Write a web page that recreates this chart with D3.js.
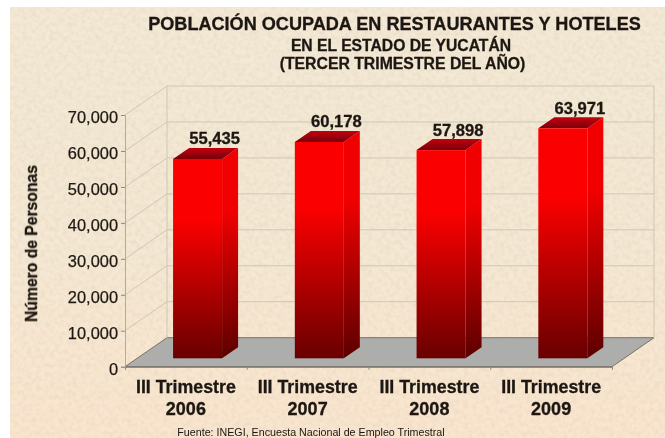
<!DOCTYPE html>
<html>
<head>
<meta charset="utf-8">
<script src="https://cdn.jsdelivr.net/npm/d3@7"></script>
<style>
  html, body { margin: 0; padding: 0; background: #fff; }
  text { font-family: "Liberation Sans", Arial, sans-serif; fill: #1c1712; }
  .bold { font-weight: bold; stroke: #1c1712; stroke-width: 0.3px; }
</style>
</head>
<body>
<div id="chart"></div>
<script>
// Data
var quarters = ["III Trimestre", "III Trimestre", "III Trimestre", "III Trimestre"];
var years = ["2006", "2007", "2008", "2009"];
var personas = [55435, 60178, 57898, 63971];
var yTicks = [0, 10000, 20000, 30000, 40000, 50000, 60000, 70000];

var svgWidth = 665;
var svgHeight = 438;

var svg = d3.select("#chart").append("svg")
  .attr("width", svgWidth)
  .attr("height", svgHeight)
  .style("display", "block");

var defs = svg.append("defs");

// paper texture for the background
var paper = defs.append("filter").attr("id", "paper")
  .attr("x", 0).attr("y", 0).attr("width", "100%").attr("height", "100%");
paper.append("feTurbulence")
  .attr("type", "fractalNoise").attr("baseFrequency", 0.22)
  .attr("numOctaves", 4).attr("seed", 7).attr("result", "noise");
paper.append("feColorMatrix").attr("in", "noise").attr("type", "matrix")
  .attr("values", "0 0 0 0 0.6  0 0 0 0 0.5  0 0 0 0 0.34  0.5 0 0 0 -0.18")
  .attr("result", "speck");
paper.append("feComposite").attr("in", "speck").attr("in2", "SourceGraphic").attr("operator", "over");

// the source is a soft screenshot
defs.append("filter").attr("id", "soft")
  .append("feGaussianBlur").attr("stdDeviation", 0.5);

var paperGrad = defs.append("linearGradient").attr("id", "paperGrad")
  .attr("x1", 0).attr("y1", 0).attr("x2", 0).attr("y2", 1);
paperGrad.append("stop").attr("offset", "0%").attr("stop-color", "#f3e9d5");
paperGrad.append("stop").attr("offset", "55%").attr("stop-color", "#f5e8d4");
paperGrad.append("stop").attr("offset", "100%").attr("stop-color", "#fae5ce");

function barGradient(id, top, bottom) {
  var g = defs.append("linearGradient").attr("id", id)
    .attr("x1", 0).attr("y1", 0).attr("x2", 0).attr("y2", 1);
  g.append("stop").attr("offset", "0%").attr("stop-color", top);
  g.append("stop").attr("offset", "30%").attr("stop-color", top);
  g.append("stop").attr("offset", "100%").attr("stop-color", bottom);
}
barGradient("barFront", "#fb0000", "#680000");
barGradient("barSide", "#f00000", "#5c0000");

// top face goes dark toward the front edge
var topGrad = defs.append("linearGradient").attr("id", "barTop")
  .attr("x1", 0).attr("y1", 0).attr("x2", 0).attr("y2", 1);
topGrad.append("stop").attr("offset", "0%").attr("stop-color", "#c40008");
topGrad.append("stop").attr("offset", "100%").attr("stop-color", "#780006");

svg.append("rect")
  .attr("x", 10).attr("y", 7)
  .attr("width", 655).attr("height", 431)
  .attr("fill", "url(#paperGrad)")
  .attr("filter", "url(#paper)");

var chart = svg.append("g").attr("filter", "url(#soft)");

// scales: front edge of the floor
var xScale = d3.scaleBand().domain(d3.range(years.length)).range([125, 612]).paddingInner(0);
var yScale = d3.scaleLinear().domain([0, 70000]).range([366.7, 115]);

// depth of the 3d box, and where the bars sit in it
var depthX = 42;
var depthY = -29;
var barOffsetX = 12;
var barOffsetY = -8.4;
var barSideX = 16;
var barSideY = -11;
var barWidth = 49;

// floor
var floorPath = d3.path();
floorPath.moveTo(xScale.range()[0], yScale(0));
floorPath.lineTo(xScale.range()[1], yScale(0));
floorPath.lineTo(xScale.range()[1] + depthX, yScale(0) + depthY);
floorPath.lineTo(xScale.range()[0] + depthX, yScale(0) + depthY);
floorPath.closePath();
chart.append("path").attr("d", floorPath.toString())
  .attr("fill", "#adadac").attr("stroke", "#77726a").attr("stroke-width", 1);

// back wall gridlines and the diagonals running to the axis
var grid = chart.append("g").attr("fill", "none").attr("stroke", "#cdc7b6").attr("stroke-width", 1);
yTicks.forEach(function(t) {
  if (t > 0) {
    grid.append("line")
      .attr("x1", xScale.range()[0] + depthX).attr("x2", xScale.range()[1] + depthX)
      .attr("y1", yScale(t) + depthY).attr("y2", yScale(t) + depthY);
    grid.append("line")
      .attr("x1", xScale.range()[0]).attr("x2", xScale.range()[0] + depthX)
      .attr("y1", yScale(t)).attr("y2", yScale(t) + depthY);
  }
});
grid.append("line")
  .attr("x1", xScale.range()[0] + depthX).attr("x2", xScale.range()[0] + depthX)
  .attr("y1", yScale(0) + depthY).attr("y2", yScale(70000) + depthY);
grid.append("line")
  .attr("x1", xScale.range()[1] + depthX).attr("x2", xScale.range()[1] + depthX)
  .attr("y1", yScale(0) + depthY).attr("y2", yScale(70000) + depthY);

// y axis
var yAxis = d3.axisLeft(yScale).tickValues(yTicks).tickSize(4).tickPadding(3).tickFormat(d3.format(","));
var yAxisG = chart.append("g")
  .attr("transform", "translate(" + xScale.range()[0] + ",0)")
  .call(yAxis);
yAxisG.select(".domain").attr("stroke", "#b0ab9d");
yAxisG.selectAll(".tick line").attr("stroke", "#8d897e");
yAxisG.selectAll("text")
  .attr("font-size", 16.4)
  .attr("dy", "0.46em")
  .attr("stroke", "#2a241c")
  .attr("stroke-width", 0.25)
  .style("font-family", '"Liberation Sans", Arial, sans-serif')
  .attr("fill", "#2a241c");

// x axis: line and ticks only, labels are two lines so they are added below
var xEdges = d3.scaleLinear().domain([0, years.length]).range(xScale.range());
var xAxis = d3.axisBottom(xEdges).ticks(years.length).tickSize(3).tickFormat("");
var xAxisG = chart.append("g")
  .attr("transform", "translate(0," + yScale(0) + ")")
  .call(xAxis);
xAxisG.select(".domain").attr("stroke", "#77726a");
xAxisG.selectAll(".tick line").attr("stroke", "#8d897e");

// bars
var bars = chart.selectAll("g.bar").data(personas).enter().append("g").attr("class", "bar");

function barLeft(i) {
  return xScale(i) + (xScale.bandwidth() - barWidth) / 2 + barOffsetX - 0.3;
}

// side face
bars.append("path")
  .attr("d", function(d, i) {
    var p = d3.path();
    var x = barLeft(i) + barWidth;
    p.moveTo(x, yScale(d) + barOffsetY);
    p.lineTo(x + barSideX, yScale(d) + barOffsetY + barSideY);
    p.lineTo(x + barSideX, yScale(0) + barOffsetY + barSideY);
    p.lineTo(x, yScale(0) + barOffsetY);
    p.closePath();
    return p.toString();
  })
  .attr("fill", "url(#barSide)");

// top face
bars.append("path")
  .attr("d", function(d, i) {
    var p = d3.path();
    var x = barLeft(i);
    var y = yScale(d) + barOffsetY;
    p.moveTo(x, y);
    p.lineTo(x + barWidth, y);
    p.lineTo(x + barWidth + barSideX, y + barSideY);
    p.lineTo(x + barSideX, y + barSideY);
    p.closePath();
    return p.toString();
  })
  .attr("fill", "url(#barTop)");

// front face
bars.append("rect")
  .attr("x", function(d, i) { return barLeft(i); })
  .attr("y", function(d) { return yScale(d) + barOffsetY; })
  .attr("width", barWidth)
  .attr("height", function(d) { return yScale(0) - yScale(d); })
  .attr("fill", "url(#barFront)");

// value labels
chart.selectAll("text.value").data(personas).enter().append("text")
  .attr("class", "value bold")
  .attr("x", function(d, i) { return barLeft(i) + 41.5; })
  .attr("y", function(d) { return yScale(d) + barOffsetY - 14.5; })
  .attr("text-anchor", "middle")
  .attr("font-size", 16.6)
  .text(function(d) { return d3.format(",")(d); });

// category labels
chart.selectAll("text.quarter").data(quarters).enter().append("text")
  .attr("class", "quarter bold")
  .attr("x", function(d, i) { return xScale(i) + xScale.bandwidth() / 2; })
  .attr("y", 392.7)
  .attr("text-anchor", "middle")
  .attr("font-size", 17.8)
  .text(function(d) { return d; });

chart.selectAll("text.year").data(years).enter().append("text")
  .attr("class", "year bold")
  .attr("x", function(d, i) { return xScale(i) + xScale.bandwidth() / 2; })
  .attr("y", 415)
  .attr("text-anchor", "middle")
  .attr("font-size", 18)
  .text(function(d) { return d; });

// y axis title
chart.append("text")
  .attr("class", "bold")
  .attr("transform", "translate(37,243.5) rotate(-90)")
  .attr("text-anchor", "middle")
  .attr("font-size", 15.7)
  .text("Número de Personas");

// titles
chart.append("text")
  .attr("class", "bold")
  .attr("x", 394.5).attr("y", 29.5)
  .attr("text-anchor", "middle")
  .attr("font-size", 18.1)
  .text("POBLACIÓN OCUPADA EN RESTAURANTES Y HOTELES");

chart.append("text")
  .attr("class", "bold")
  .attr("x", 401).attr("y", 50.7)
  .attr("text-anchor", "middle")
  .attr("font-size", 15.7)
  .text("EN EL ESTADO DE YUCATÁN");

chart.append("text")
  .attr("class", "bold")
  .attr("x", 402.5).attr("y", 69.3)
  .attr("text-anchor", "middle")
  .attr("font-size", 15.8)
  .text("(TERCER TRIMESTRE DEL AÑO)");

chart.append("text")
  .attr("x", 311).attr("y", 435.5)
  .attr("text-anchor", "middle")
  .attr("font-size", 10.7)
  .text("Fuente: INEGI, Encuesta Nacional de Empleo Trimestral");
</script>
</body>
</html>
